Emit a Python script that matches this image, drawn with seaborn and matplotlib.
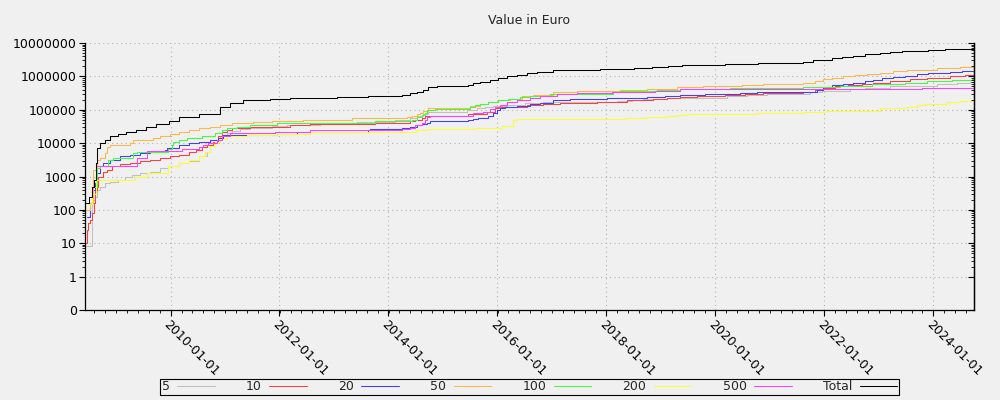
import pandas as pd
import matplotlib
matplotlib.use("Agg")
import matplotlib.pyplot as plt
import matplotlib.dates as mdates
from matplotlib.ticker import FixedLocator, FuncFormatter, AutoMinorLocator
import seaborn as sns

# cumulative value (euro) per denomination, (date, value) pairs, step after each date
SERIES_5 = [
    ("2008-06-09", 8), ("2008-07-19", 200), ("2008-08-08", 250), ("2008-08-22", 400),
    ("2008-09-11", 500), ("2008-10-15", 650), ("2008-11-17", 700), ("2009-01-10", 800),
    ("2009-02-26", 1000), ("2009-04-14", 1100), ("2009-06-07", 1300), ("2009-08-12", 1400),
    ("2009-10-18", 1800), ("2009-12-11", 2100), ("2010-03-01", 2500), ("2010-05-07", 2900),
    ("2010-07-13", 4000), ("2010-08-30", 5600), ("2010-09-19", 8000), ("2010-10-23", 11000),
    ("2010-11-25", 16000), ("2011-01-11", 20000), ("2011-02-14", 23000), ("2011-04-08", 27000),
    ("2011-06-15", 29000), ("2011-11-15", 33000), ("2012-02-18", 35000), ("2012-09-26", 37000),
    ("2013-06-03", 43000), ("2014-02-13", 48000), ("2014-05-24", 55000), ("2014-07-10", 63000),
    ("2014-08-19", 75000), ("2014-09-22", 85000), ("2015-06-10", 95000), ("2015-08-16", 110000),
    ("2015-10-09", 120000), ("2015-12-02", 130000), ("2016-03-05", 140000), ("2016-07-04", 160000),
    ("2016-11-02", 170000), ("2018-03-14", 180000), ("2018-06-22", 190000), ("2018-09-04", 210000),
    ("2019-02-13", 230000), ("2020-03-21", 260000), ("2020-08-03", 280000), ("2020-12-15", 300000),
    ("2021-09-29", 330000), ("2021-12-19", 370000), ("2022-06-26", 410000), ("2022-10-04", 450000),
    ("2023-03-21", 500000), ("2023-08-22", 520000), ("2024-01-30", 580000), ("2024-06-14", 620000),
    ("2024-09-09", 670000), ("2024-09-30", 670000),
]
SERIES_10 = [
    ("2008-06-09", 10), ("2008-06-16", 25), ("2008-06-23", 40), ("2008-07-06", 50),
    ("2008-07-19", 80), ("2008-08-02", 160), ("2008-08-08", 400), ("2008-08-22", 500),
    ("2008-08-28", 1000), ("2008-10-01", 1400), ("2008-10-28", 1600), ("2008-12-01", 2000),
    ("2009-01-23", 2300), ("2009-04-01", 2600), ("2009-06-07", 2900), ("2009-08-12", 3200),
    ("2009-10-18", 3600), ("2009-12-24", 4000), ("2010-03-01", 4500), ("2010-05-07", 5300),
    ("2010-06-23", 6300), ("2010-07-27", 7700), ("2010-08-30", 9000), ("2010-10-09", 11000),
    ("2010-11-12", 16000), ("2010-12-09", 21000), ("2011-01-11", 25000), ("2011-02-14", 28000),
    ("2011-06-15", 30000), ("2011-08-21", 31000), ("2012-03-09", 36000), ("2012-07-21", 37000),
    ("2013-10-01", 40000), ("2014-05-24", 45000), ("2014-06-27", 50000), ("2014-08-12", 56000),
    ("2014-09-02", 63000), ("2014-09-22", 67000), ("2015-06-17", 75000), ("2015-10-23", 87000),
    ("2015-12-15", 110000), ("2016-01-18", 120000), ("2016-03-25", 125000), ("2016-07-17", 135000),
    ("2016-11-02", 150000), ("2017-02-24", 160000), ("2017-10-31", 170000), ("2018-01-26", 175000),
    ("2018-05-19", 190000), ("2018-09-04", 200000), ("2018-11-11", 215000), ("2019-02-13", 230000),
    ("2019-05-11", 240000), ("2019-09-02", 250000), ("2020-03-07", 270000), ("2020-07-20", 290000),
    ("2020-11-19", 310000), ("2021-08-13", 350000), ("2021-11-02", 400000), ("2021-12-25", 450000),
    ("2022-03-16", 500000), ("2022-06-12", 550000), ("2022-09-14", 600000), ("2022-11-27", 650000),
    ("2023-03-21", 740000), ("2023-08-02", 820000), ("2023-11-24", 900000), ("2024-04-27", 1000000),
    ("2024-08-07", 1100000), ("2024-09-30", 1100000),
]
SERIES_20 = [
    ("2008-06-16", 60), ("2008-07-06", 160), ("2008-07-26", 400), ("2008-08-08", 650),
    ("2008-08-22", 1300), ("2008-09-11", 2000), ("2008-10-01", 2500), ("2008-11-17", 3200),
    ("2009-01-23", 4000), ("2009-04-01", 4500), ("2009-06-07", 5000), ("2009-08-12", 5600),
    ("2009-11-21", 6300), ("2009-12-04", 7300), ("2010-03-01", 9000), ("2010-05-07", 10000),
    ("2010-07-13", 11000), ("2010-09-19", 12500), ("2010-11-12", 14000), ("2010-12-15", 17000),
    ("2011-01-31", 18000), ("2011-12-12", 19000), ("2012-04-25", 21000), ("2012-09-06", 22000),
    ("2013-08-15", 24000), ("2013-08-28", 26000), ("2014-04-01", 28000), ("2014-05-24", 31000),
    ("2014-07-10", 34000), ("2014-08-12", 38000), ("2014-09-15", 41000), ("2014-10-06", 45000),
    ("2015-06-17", 50000), ("2015-07-20", 53000), ("2015-08-23", 58000), ("2015-10-29", 65000),
    ("2015-12-02", 80000), ("2015-12-29", 95000), ("2016-01-18", 110000), ("2016-02-21", 120000),
    ("2016-05-11", 130000), ("2016-08-07", 150000), ("2016-10-13", 160000), ("2017-01-08", 190000),
    ("2017-05-03", 210000), ("2018-01-06", 230000), ("2018-10-01", 240000), ("2019-01-30", 260000),
    ("2019-05-11", 280000), ("2019-10-25", 300000), ("2020-06-17", 310000), ("2020-10-09", 330000),
    ("2021-07-04", 350000), ("2021-11-15", 400000), ("2021-12-25", 480000), ("2022-02-25", 550000),
    ("2022-05-09", 600000), ("2022-07-15", 650000), ("2022-10-04", 720000), ("2022-11-27", 780000),
    ("2023-01-26", 870000), ("2023-04-10", 960000), ("2023-06-29", 1050000), ("2023-09-18", 1150000),
    ("2023-12-01", 1250000), ("2024-04-27", 1350000), ("2024-07-17", 1450000), ("2024-09-30", 1450000),
]
SERIES_50 = [
    ("2008-06-09", 100), ("2008-07-06", 160), ("2008-07-26", 1600), ("2008-08-22", 3200),
    ("2008-09-11", 3700), ("2008-10-15", 5200), ("2008-10-28", 7700), ("2008-11-17", 9000),
    ("2009-04-01", 10000), ("2009-04-21", 12500), ("2009-09-01", 14000), ("2009-10-18", 16000),
    ("2009-12-24", 18500), ("2010-03-01", 21000), ("2010-05-07", 24000), ("2010-07-13", 28000),
    ("2010-09-19", 31000), ("2010-11-25", 35000), ("2011-02-14", 40000), ("2011-07-05", 43000),
    ("2011-11-15", 45000), ("2012-06-05", 48000), ("2012-07-21", 50000), ("2013-04-30", 55000),
    ("2014-05-04", 60000), ("2014-06-07", 65000), ("2014-07-10", 75000), ("2014-07-30", 81000),
    ("2014-08-19", 94000), ("2014-09-22", 110000), ("2015-06-30", 130000), ("2015-09-06", 150000),
    ("2015-10-29", 165000), ("2016-01-05", 190000), ("2016-03-25", 215000), ("2016-06-14", 250000),
    ("2016-08-27", 280000), ("2017-01-08", 330000), ("2017-06-19", 360000), ("2018-04-03", 400000),
    ("2018-10-01", 430000), ("2019-04-21", 470000), ("2019-10-12", 500000), ("2020-06-30", 550000),
    ("2020-11-19", 580000), ("2021-08-13", 650000), ("2021-11-02", 740000), ("2021-12-25", 820000),
    ("2022-02-25", 900000), ("2022-05-09", 1000000), ("2022-07-29", 1100000), ("2022-10-17", 1200000),
    ("2023-01-13", 1300000), ("2023-04-10", 1400000), ("2023-07-12", 1500000), ("2023-10-08", 1600000),
    ("2024-01-30", 1800000), ("2024-07-03", 1900000), ("2024-09-30", 1900000),
]
SERIES_100 = [
    ("2008-08-02", 500), ("2008-08-22", 1800), ("2008-09-11", 2000), ("2008-11-04", 3200),
    ("2008-12-08", 3700), ("2009-04-21", 5200), ("2009-05-17", 5600), ("2009-12-11", 6800),
    ("2010-01-07", 9000), ("2010-01-14", 11000), ("2010-03-01", 12500), ("2010-04-23", 14000),
    ("2010-07-27", 16000), ("2010-10-23", 20000), ("2010-12-09", 24000), ("2011-01-11", 28000),
    ("2011-03-19", 31000), ("2011-06-15", 34000), ("2011-12-12", 40000), ("2013-10-01", 45000),
    ("2014-06-07", 50000), ("2014-07-10", 60000), ("2014-08-12", 70000), ("2014-09-02", 80000),
    ("2014-09-15", 100000), ("2014-11-08", 105000), ("2015-06-30", 120000), ("2015-08-03", 135000),
    ("2015-09-06", 150000), ("2015-10-29", 165000), ("2016-01-05", 190000), ("2016-03-11", 215000),
    ("2016-05-31", 240000), ("2016-08-07", 260000), ("2016-12-19", 300000), ("2018-02-15", 330000),
    ("2018-04-03", 360000), ("2018-12-08", 400000), ("2019-05-11", 420000), ("2020-04-10", 450000),
    ("2021-08-13", 470000), ("2022-04-19", 520000), ("2022-11-20", 580000), ("2023-06-29", 650000),
    ("2023-11-24", 710000), ("2024-05-11", 780000), ("2024-09-22", 860000), ("2024-09-30", 860000),
]
SERIES_200 = [
    ("2008-06-23", 150), ("2008-07-19", 300), ("2008-08-15", 770), ("2009-05-04", 1000),
    ("2009-07-23", 1300), ("2009-12-11", 2100), ("2010-03-01", 2600), ("2010-05-07", 3200),
    ("2010-07-13", 4000), ("2010-08-16", 5600), ("2010-09-19", 8000), ("2010-10-23", 10500),
    ("2010-11-25", 13000), ("2011-01-11", 16000), ("2011-05-26", 18000), ("2011-12-12", 19000),
    ("2012-07-21", 21000), ("2014-07-03", 25000), ("2014-09-22", 26000), ("2015-07-27", 28000),
    ("2016-02-01", 33000), ("2016-04-14", 50000), ("2016-05-11", 53000), ("2018-05-06", 56000),
    ("2018-10-01", 60000), ("2019-02-13", 65000), ("2019-04-21", 70000), ("2019-06-27", 75000),
    ("2020-10-09", 80000), ("2021-08-13", 85000), ("2022-01-08", 90000), ("2023-01-13", 110000),
    ("2023-04-10", 115000), ("2023-07-12", 125000), ("2023-09-18", 140000), ("2023-11-10", 150000),
    ("2024-04-07", 165000), ("2024-07-03", 180000), ("2024-09-30", 180000),
]
SERIES_500 = [
    ("2008-08-22", 2000), ("2009-05-17", 3600), ("2009-07-23", 5800), ("2010-03-21", 6800),
    ("2010-07-13", 7400), ("2010-08-03", 9000), ("2010-09-06", 10000), ("2010-11-05", 12500),
    ("2010-12-09", 16000), ("2011-01-31", 20000), ("2011-11-29", 22000), ("2012-07-21", 24000),
    ("2014-04-01", 26000), ("2014-05-24", 29000), ("2014-06-27", 34000), ("2014-08-12", 40000),
    ("2014-09-02", 50000), ("2014-09-15", 60000), ("2014-10-06", 65000), ("2015-07-20", 80000),
    ("2015-09-26", 87000), ("2015-11-12", 105000), ("2015-12-15", 120000), ("2016-01-18", 140000),
    ("2016-03-05", 165000), ("2016-05-11", 200000), ("2016-08-07", 230000), ("2016-10-13", 260000),
    ("2017-02-04", 290000), ("2017-06-19", 310000), ("2018-02-09", 330000), ("2018-11-24", 360000),
    ("2019-05-11", 410000), ("2023-10-21", 440000), ("2024-09-30", 440000),
]
SERIES_TOTAL = [
    ("2008-06-09", 160), ("2008-07-01", 250), ("2008-07-19", 470), ("2008-08-02", 800),
    ("2008-08-15", 2600), ("2008-08-22", 7200), ("2008-09-11", 10000), ("2008-10-15", 12000),
    ("2008-11-17", 16000), ("2009-01-15", 19000), ("2009-03-10", 21500), ("2009-05-10", 25000),
    ("2009-07-20", 31000), ("2009-09-25", 38000), ("2009-12-20", 45000), ("2010-03-01", 60000),
    ("2010-07-13", 75000), ("2010-11-25", 120000), ("2011-01-31", 160000), ("2011-04-28", 190000),
    ("2011-10-26", 210000), ("2012-03-09", 230000), ("2013-01-19", 240000), ("2013-08-15", 260000),
    ("2014-04-01", 285000), ("2014-05-24", 310000), ("2014-07-10", 340000), ("2014-08-19", 400000),
    ("2014-09-22", 470000), ("2014-11-22", 520000), ("2015-06-17", 570000), ("2015-07-20", 620000),
    ("2015-09-06", 700000), ("2015-11-12", 780000), ("2016-01-05", 880000), ("2016-03-05", 1000000),
    ("2016-05-11", 1100000), ("2016-07-17", 1250000), ("2016-09-23", 1370000), ("2017-01-08", 1500000),
    ("2017-11-20", 1650000), ("2018-07-05", 1800000), ("2018-11-04", 1900000), ("2019-02-19", 2050000),
    ("2019-05-24", 2200000), ("2020-03-07", 2400000), ("2020-10-16", 2500000), ("2021-08-13", 2700000),
    ("2021-10-19", 3000000), ("2021-12-19", 3200000), ("2022-02-25", 3500000), ("2022-05-03", 3900000),
    ("2022-07-15", 4200000), ("2022-10-04", 4600000), ("2023-01-13", 4900000), ("2023-03-21", 5200000),
    ("2023-06-09", 5600000), ("2023-09-04", 5900000), ("2023-12-01", 6200000), ("2024-03-24", 6500000),
    ("2024-07-03", 6800000), ("2024-09-30", 6800000),
]

LABELS = ["5", "10", "20", "50", "100", "200", "500", "Total"]
COLORS = ["#c0c0c0", "#ff4040", "#4040ff", "#ffb84a", "#40ff40", "#ffff30", "#ff40ff", "#000000"]
Y_TICKS = [0, 1, 10, 100, 1000, 10000, 100000, 1000000, 10000000]

all_series = [SERIES_5, SERIES_10, SERIES_20, SERIES_50, SERIES_100, SERIES_200, SERIES_500, SERIES_TOTAL]
frames = []
for label, pts in zip(LABELS, all_series):
    part = pd.DataFrame(pts, columns=["date", "value"])
    part["date"] = pd.to_datetime(part["date"])
    part["series"] = label
    frames.append(part)
df = pd.concat(frames, ignore_index=True)

BG = "#f0f0f0"
sns.set_theme(style="ticks")
plt.rcParams["font.family"] = ["DejaVu Sans"]
plt.rcParams["axes.edgecolor"] = "black"
plt.rcParams["xtick.color"] = "black"
plt.rcParams["ytick.color"] = "black"

fig = plt.figure(figsize=(10, 4), dpi=100, facecolor=BG)
ax = fig.add_axes([0.085, 0.225, 0.889, 0.6675], facecolor=BG)

sns.lineplot(data=df, x="date", y="value", hue="series", hue_order=LABELS,
             palette=dict(zip(LABELS, COLORS)), estimator=None, sort=False,
             drawstyle="steps-post", linewidth=0.75, ax=ax)

# y: log axis with 0 at the bottom, one decade per step
ax.set_yscale("symlog", linthresh=1, linscale=0.9)
ax.set_ylim(0, 1e7)
minor_y = [m * 10 ** k for k in range(0, 7) for m in range(2, 10)]
ax.yaxis.set_major_locator(FixedLocator(Y_TICKS))
ax.yaxis.set_minor_locator(FixedLocator(minor_y))
ax.yaxis.set_major_formatter(FuncFormatter(lambda v, p: f"{v:.0f}"))

ax.set_xlim(pd.Timestamp("2008-06-05"), pd.Timestamp("2024-10-04"))
ax.xaxis.set_major_locator(mdates.YearLocator(2))
ax.xaxis.set_major_formatter(mdates.DateFormatter("%Y-%m-%d"))
ax.xaxis.set_minor_locator(AutoMinorLocator(10))

ax.grid(True, which="major", color="#b4b4b4", linestyle=(0, (1, 3)), linewidth=0.8)
ax.tick_params(axis="both", which="major", length=4, width=0.8, labelsize=9, pad=2)
ax.tick_params(axis="both", which="minor", length=2, width=0.6)
for lab in ax.get_xticklabels():
    lab.set_rotation(-45)
    lab.set_ha("left")
    lab.set_va("top")
    lab.set_rotation_mode("anchor")

ax.spines["top"].set_visible(False)
for s in ["left", "bottom", "right"]:
    ax.spines[s].set_color("black")
    ax.spines[s].set_linewidth(0.9)
ax.set_xlabel("")
ax.set_ylabel("")
ax.set_title("Value in Euro", fontsize=9, pad=14)

# inward ticks on the right edge
ax2 = ax.twinx()
ax2.set_yscale("symlog", linthresh=1, linscale=0.9)
ax2.set_ylim(0, 1e7)
ax2.yaxis.set_major_locator(FixedLocator(Y_TICKS))
ax2.yaxis.set_minor_locator(FixedLocator(minor_y))
ax2.tick_params(axis="y", which="major", direction="in", length=4, width=0.8, labelright=False)
ax2.tick_params(axis="y", which="minor", direction="in", length=2, width=0.6)
for s in ["top", "left", "bottom"]:
    ax2.spines[s].set_visible(False)
ax2.spines["right"].set_color("black")
ax2.spines["right"].set_linewidth(0.9)

sns.move_legend(ax, "center", bbox_to_anchor=(0.5295, 0.0325), bbox_transform=fig.transFigure,
                ncol=8, title=None, frameon=True, fancybox=False, markerfirst=False,
                fontsize=9, handlelength=3.0, handletextpad=0.6, columnspacing=2.5,
                borderpad=0.15, borderaxespad=0, facecolor=BG, edgecolor="black", framealpha=1)
ax.get_legend().get_frame().set_linewidth(0.8)

fig.savefig("out.png", dpi=100, facecolor=BG)
